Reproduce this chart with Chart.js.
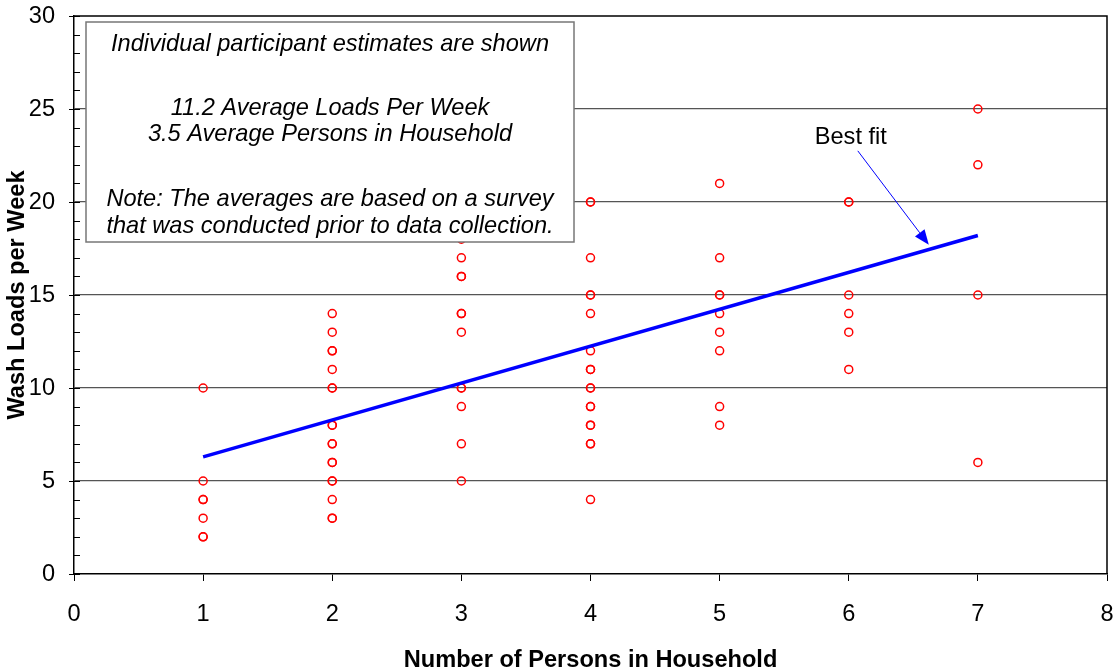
<!DOCTYPE html>
<html>
<head>
<meta charset="utf-8">
<script src="https://cdn.jsdelivr.net/npm/chart.js@4/dist/chart.umd.min.js"></script>
<style>
  html, body { margin: 0; padding: 0; background: #fff; }
  #wrap { width: 1113px; height: 672px; }
</style>
</head>
<body>
<div id="wrap"><canvas id="washChart"></canvas></div>
<script>
// wash loads reported per household size
const persons = [1, 2, 3, 4, 5, 6, 7];
const loads1 = [10, 5, 4, 4, 3, 2, 2];
const loads2 = [14, 13, 12, 12, 11, 10, 10, 8, 8, 7, 7, 6, 6, 5, 5, 4, 3, 3];
const loads3 = [18, 17, 16, 16, 14, 14, 13, 10, 10, 9, 7, 5];
const loads4 = [20, 20, 17, 15, 15, 14, 12, 11, 11, 10, 10, 9, 9, 8, 8, 7, 7, 4];
const loads5 = [21, 17, 15, 15, 14, 13, 12, 9, 8];
const loads6 = [20, 20, 15, 14, 13, 11];
const loads7 = [25, 22, 15, 6];

// best fit line ends
const fitX = [1, 7];
const fitY = [6.3, 18.2];

const xTicks = [0, 1, 2, 3, 4, 5, 6, 7, 8];
const yTicks = [0, 5, 10, 15, 20, 25, 30];

const noteLines = [
    "Individual participant estimates are shown",
    "11.2 Average Loads Per Week",
    "3.5 Average Persons in Household",
    "Note: The averages are based on a survey",
    "that was conducted prior to data collection."
];
const noteOffsets = [22, 86, 112, 177, 204];

const bestFitLabel = "Best fit";
const arrowFrom = [6.07, 22.75];
const arrowTo = [6.62, 17.7];

const font = "'Liberation Sans', Arial, sans-serif";

let allLoads = [loads1, loads2, loads3, loads4, loads5, loads6, loads7];
let points = [];
allLoads.forEach((col, i) => {
    col.forEach(v => points.push({ x: persons[i], y: v }));
});

const frame = {
    id: "frame",
    beforeDatasetsDraw(chart) {
        const { ctx, chartArea: a, scales: { y } } = chart;
        ctx.save();
        ctx.strokeStyle = "#000";
        ctx.lineWidth = 1;
        for (let v = 0; v <= 30; v++) {
            const py = Math.round(y.getPixelForValue(v)) + 0.5;
            ctx.beginPath();
            if (v % 5 === 0) {
                ctx.moveTo(a.left - 5, py);
            } else {
                ctx.moveTo(a.left, py);
            }
            ctx.lineTo(a.left + 6, py);
            ctx.stroke();
        }
        ctx.lineWidth = 1.5;
        ctx.beginPath();
        ctx.moveTo(a.left, a.top);
        ctx.lineTo(a.right, a.top);
        ctx.lineTo(a.right, a.bottom);
        ctx.stroke();
        ctx.restore();
    },
    afterDatasetsDraw(chart) {
        const { ctx, chartArea: a, scales: { x, y } } = chart;
        ctx.save();
        // note box
        const bx = a.left + 12, by = a.top + 6, bw = 488, bh = 220;
        ctx.fillStyle = "#fff";
        ctx.fillRect(bx, by, bw, bh);
        ctx.strokeStyle = "#777";
        ctx.lineWidth = 1.5;
        ctx.strokeRect(bx, by, bw, bh);
        ctx.fillStyle = "#000";
        ctx.font = "italic 23.6px " + font;
        ctx.textAlign = "center";
        ctx.textBaseline = "middle";
        noteLines.forEach((t, i) => ctx.fillText(t, bx + bw / 2, by + noteOffsets[i]));

        // best fit label + arrow
        const x0 = x.getPixelForValue(arrowFrom[0]), y0 = y.getPixelForValue(arrowFrom[1]);
        const x1 = x.getPixelForValue(arrowTo[0]), y1 = y.getPixelForValue(arrowTo[1]);
        ctx.font = "23.6px " + font;
        ctx.fillText(bestFitLabel, x0 - 7, y0 - 13);
        const ang = Math.atan2(y1 - y0, x1 - x0);
        const hl = 15, hw = 6;
        const bxh = x1 - hl * Math.cos(ang), byh = y1 - hl * Math.sin(ang);
        ctx.strokeStyle = "#0000ff";
        ctx.fillStyle = "#0000ff";
        ctx.lineWidth = 1;
        ctx.beginPath();
        ctx.moveTo(x0, y0);
        ctx.lineTo(bxh, byh);
        ctx.stroke();
        ctx.beginPath();
        ctx.moveTo(x1, y1);
        ctx.lineTo(bxh + hw * Math.sin(ang), byh - hw * Math.cos(ang));
        ctx.lineTo(bxh - hw * Math.sin(ang), byh + hw * Math.cos(ang));
        ctx.closePath();
        ctx.fill();
        ctx.restore();
    }
};

new Chart(document.getElementById("washChart"), {
    type: "scatter",
    data: {
        datasets: [{
            label: "estimates",
            data: points,
            pointStyle: "circle",
            pointRadius: 4,
            pointBorderWidth: 1.5,
            borderColor: "#ff0000",
            backgroundColor: "rgba(0,0,0,0)",
            order: 2
        }, {
            label: "fit",
            type: "line",
            data: fitX.map((v, i) => ({ x: v, y: fitY[i] })),
            borderColor: "#0000ff",
            borderWidth: 3.5,
            pointRadius: 0,
            fill: false,
            order: 1
        }]
    },
    options: {
        responsive: true,
        maintainAspectRatio: false,
        animation: false,
        events: [],
        layout: {
            padding: { left: 0, top: 16, right: 6, bottom: 0 }
        },
        scales: {
            x: {
                type: "linear",
                min: 0,
                max: 8,
                afterBuildTicks: (s) => { s.ticks = xTicks.map(v => ({ value: v })); },
                afterFit: (s) => { s.height = 98; s.paddingLeft = 0; s.paddingRight = 0; },
                border: { color: "#000", width: 1.5 },
                grid: {
                    drawOnChartArea: false,
                    drawTicks: true,
                    tickLength: 7,
                    tickColor: "#000"
                },
                ticks: {
                    color: "#000",
                    padding: 19,
                    font: { family: font, size: 23.6 }
                },
                title: {
                    display: true,
                    text: "Number of Persons in Household",
                    color: "#000",
                    font: { family: font, size: 23.6, weight: "bold", lineHeight: 1 },
                    padding: { top: 0, bottom: 0 }
                }
            },
            y: {
                type: "linear",
                min: 0,
                max: 30,
                afterBuildTicks: (s) => { s.ticks = yTicks.map(v => ({ value: v })); },
                afterFit: (s) => { s.width = 74; s.paddingTop = 0; s.paddingBottom = 0; },
                border: { color: "#000", width: 1.5 },
                grid: {
                    drawTicks: false,
                    color: (c) => (c.tick && c.tick.value > 0 && c.tick.value < 30) ? "#555" : "rgba(0,0,0,0)",
                    lineWidth: 1.2
                },
                ticks: {
                    color: "#000",
                    padding: 19,
                    font: { family: font, size: 23.6 }
                },
                title: {
                    display: true,
                    text: "Wash Loads per Week",
                    color: "#000",
                    font: { family: font, size: 23.6, weight: "bold", lineHeight: 1 },
                    padding: { top: 6, bottom: 0 }
                }
            }
        },
        plugins: {
            legend: { display: false },
            tooltip: { enabled: false }
        }
    },
    plugins: [frame]
});
</script>
</body>
</html>
